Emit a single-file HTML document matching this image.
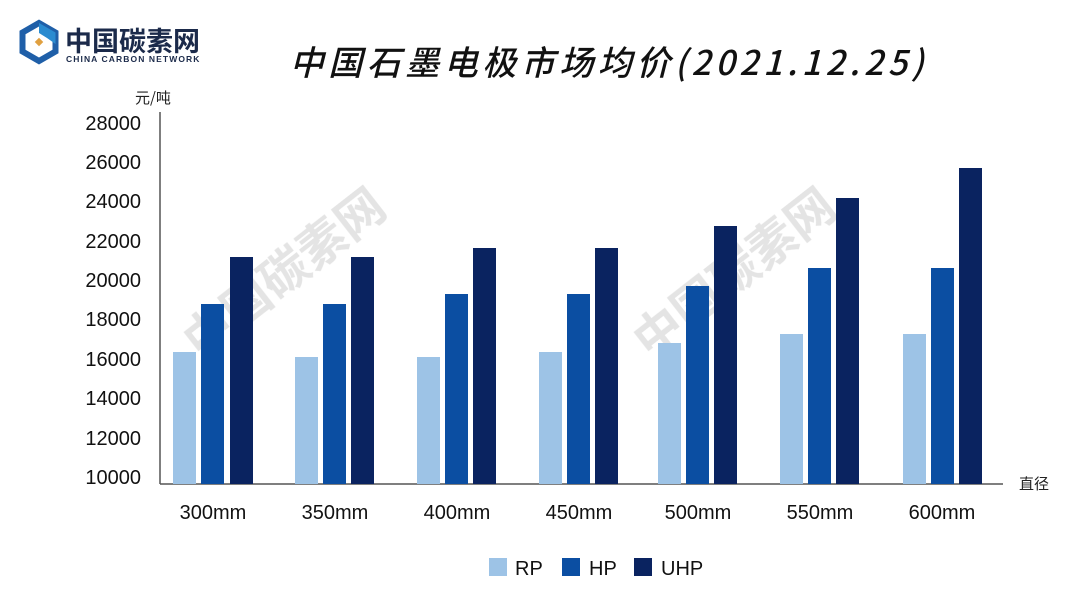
<!DOCTYPE html>
<html><head><meta charset="utf-8"><style>
body{margin:0;background:#fff;}
svg{display:block;font-family:"Liberation Sans","Noto Sans CJK SC",sans-serif;}
</style></head><body>
<svg width="1080" height="608" viewBox="0 0 1080 608" xmlns="http://www.w3.org/2000/svg">
<rect width="1080" height="608" fill="#fff"/>
<!-- logo -->
<g transform="translate(39,42)">
<polygon points="0,-19 16.5,-9.5 16.5,9.5 0,19 -16.5,9.5 -16.5,-9.5" fill="none" stroke="#1f5fa8" stroke-width="6"/>
<polygon points="0,-19 16.5,-9.5 16.5,2 8,-4 0,-9" fill="#2a8bd0"/>
<rect x="-3" y="-3" width="6" height="6" fill="#e0a040" transform="rotate(45)"/>
</g>
<text x="65" y="51" font-size="27" font-weight="bold" fill="#1b2a4a" font-family="'Noto Sans CJK SC',sans-serif">中国碳素网</text>
<text x="66" y="62" font-size="8.5" font-weight="bold" fill="#1b2a4a" letter-spacing="1.1">CHINA CARBON NETWORK</text>
<!-- title -->
<text x="609" y="75" font-size="34" font-style="italic" font-weight="500" fill="#111" text-anchor="middle" letter-spacing="4.5" font-family="'Noto Sans CJK SC','Liberation Sans',sans-serif">中国石墨电极市场均价(2021.12.25)</text>
<!-- watermarks -->
<g fill="#bbb" opacity="0.4" font-family="'Noto Sans CJK SC',sans-serif">
<text x="200" y="360" font-size="48" font-weight="bold" transform="rotate(-38 200 360)">中国碳素网</text>
<text x="650" y="360" font-size="48" font-weight="bold" transform="rotate(-38 650 360)">中国碳素网</text>
</g>
<!-- axes -->
<line x1="160" y1="112" x2="160" y2="484" stroke="#555" stroke-width="1.5"/>
<line x1="160" y1="484" x2="1003" y2="484" stroke="#555" stroke-width="1.5"/>
<text x="153" y="103" font-size="15" fill="#222" text-anchor="middle" font-family="'Noto Sans CJK SC',sans-serif">元/吨</text>
<text x="1034" y="489" font-size="15" fill="#222" text-anchor="middle" font-family="'Noto Sans CJK SC',sans-serif">直径</text>
<g font-size="20" fill="#111" text-anchor="end">
<text x="141" y="484">10000</text>
<text x="141" y="445">12000</text>
<text x="141" y="405">14000</text>
<text x="141" y="366">16000</text>
<text x="141" y="326">18000</text>
<text x="141" y="287">20000</text>
<text x="141" y="248">22000</text>
<text x="141" y="208">24000</text>
<text x="141" y="169">26000</text>
<text x="141" y="130">28000</text>
</g>
<!-- bars -->
<g>
<rect x="173" y="352" width="23" height="132" fill="#9dc3e6"/><rect x="201" y="304" width="23" height="180" fill="#0b4ea2"/><rect x="230" y="257" width="23" height="227" fill="#0a2360"/>
<rect x="295" y="357" width="23" height="127" fill="#9dc3e6"/><rect x="323" y="304" width="23" height="180" fill="#0b4ea2"/><rect x="351" y="257" width="23" height="227" fill="#0a2360"/>
<rect x="417" y="357" width="23" height="127" fill="#9dc3e6"/><rect x="445" y="294" width="23" height="190" fill="#0b4ea2"/><rect x="473" y="248" width="23" height="236" fill="#0a2360"/>
<rect x="539" y="352" width="23" height="132" fill="#9dc3e6"/><rect x="567" y="294" width="23" height="190" fill="#0b4ea2"/><rect x="595" y="248" width="23" height="236" fill="#0a2360"/>
<rect x="658" y="343" width="23" height="141" fill="#9dc3e6"/><rect x="686" y="286" width="23" height="198" fill="#0b4ea2"/><rect x="714" y="226" width="23" height="258" fill="#0a2360"/>
<rect x="780" y="334" width="23" height="150" fill="#9dc3e6"/><rect x="808" y="268" width="23" height="216" fill="#0b4ea2"/><rect x="836" y="198" width="23" height="286" fill="#0a2360"/>
<rect x="903" y="334" width="23" height="150" fill="#9dc3e6"/><rect x="931" y="268" width="23" height="216" fill="#0b4ea2"/><rect x="959" y="168" width="23" height="316" fill="#0a2360"/>
</g>
<g font-size="20" fill="#111" text-anchor="middle">
<text x="213" y="519">300mm</text><text x="335" y="519">350mm</text><text x="457" y="519">400mm</text>
<text x="579" y="519">450mm</text><text x="698" y="519">500mm</text><text x="820" y="519">550mm</text><text x="942" y="519">600mm</text>
</g>
<!-- legend -->
<rect x="489" y="558" width="18" height="18" fill="#9dc3e6"/>
<text x="515" y="575" font-size="20" fill="#111">RP</text>
<rect x="562" y="558" width="18" height="18" fill="#0b4ea2"/>
<text x="589" y="575" font-size="20" fill="#111">HP</text>
<rect x="634" y="558" width="18" height="18" fill="#0a2360"/>
<text x="661" y="575" font-size="20" fill="#111">UHP</text>
</svg>
</body></html>
